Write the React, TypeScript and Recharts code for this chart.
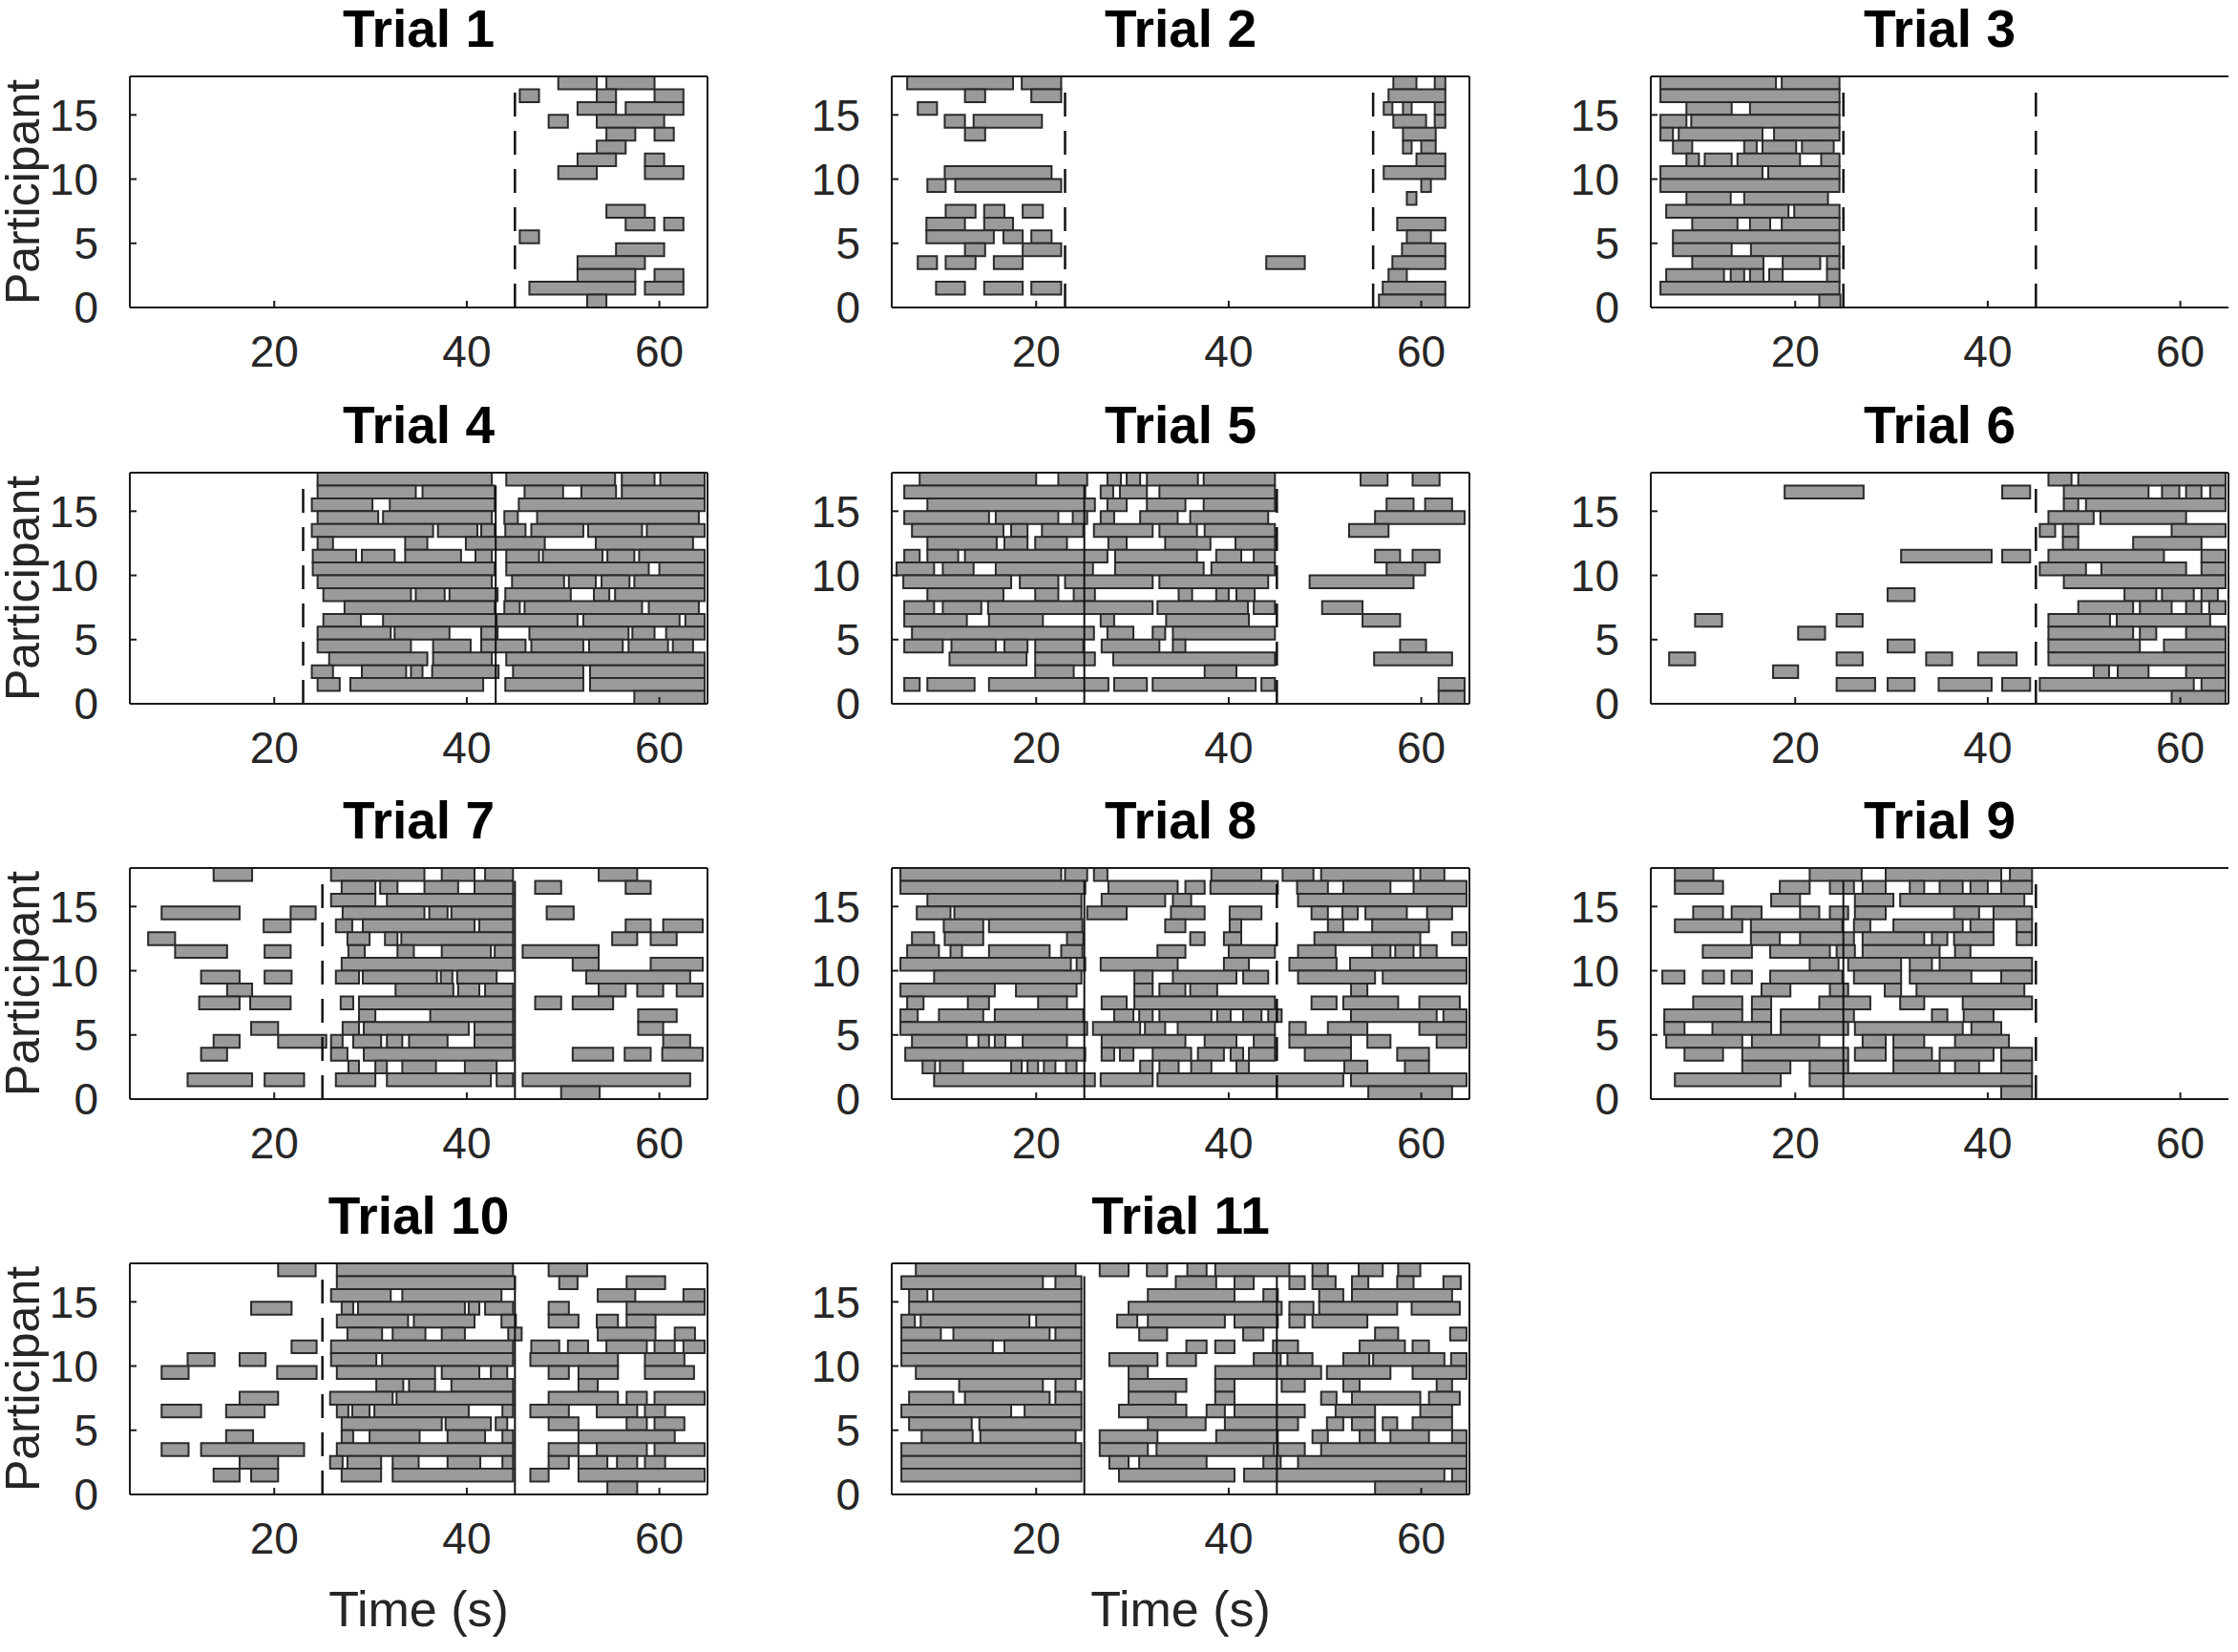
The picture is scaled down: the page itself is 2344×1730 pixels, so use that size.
import React from "react";
import {ComposedChart, XAxis, YAxis, ReferenceArea, ReferenceLine} from "recharts";

// each row: [participant row, start1, end1, start2, end2, ...] in seconds
type RowSpans = number[];
type Mark = { t: number; dashed: boolean };

const xTicks = [20, 40, 60];
const yTicks = [0, 5, 10, 15];
const timeDomain = [5, 65];
const rowDomain = [0, 18];

const trial1Rows: RowSpans[] = [
    [17, 49.5, 53.5, 54.5, 59.5],
    [16, 45.5, 47.5, 53.5, 55.5, 59.5, 62.5],
    [15, 51.5, 55.5, 56.5, 62.5],
    [14, 48.5, 50.5, 53.5, 60.5],
    [13, 54.5, 57.5, 59.5, 61.5],
    [12, 53.5, 56.5],
    [11, 51.5, 55.5, 58.5, 60.5],
    [10, 49.5, 53.5, 58.5, 62.5],
    [7, 54.5, 58.5],
    [6, 56.5, 59.5, 60.5, 62.5],
    [5, 45.5, 47.5],
    [4, 55.5, 60.5],
    [3, 51.5, 58.5],
    [2, 51.5, 57.5, 59.5, 62.5],
    [1, 46.5, 57.5, 58.5, 62.5],
    [0, 52.5, 54.5],
];
const trial1Marks: Mark[] = [{t: 45, dashed: true}];

const trial2Rows: RowSpans[] = [
    [17, 6.6, 17.6, 18.5, 22.6, 57.1, 59.5, 61.4, 62.5],
    [16, 12.6, 14.7, 19.5, 22.6, 56.6, 62.5],
    [15, 7.7, 9.7, 56.1, 57, 58.1, 59, 61.4, 62.5],
    [14, 10.5, 12.6, 13.5, 20.6, 57.1, 60.5, 61.4, 62.5],
    [13, 12.6, 14.7, 58.1, 61.5],
    [12, 58.1, 59, 60, 61.5],
    [11, 59.5, 62.5],
    [10, 10.5, 21.6, 56.1, 62.5],
    [9, 8.7, 10.6, 11.6, 22.6, 60, 61],
    [8, 58.5, 59.5],
    [7, 10.6, 13.7, 14.6, 16.7, 18.6, 20.7],
    [6, 8.6, 12.6, 14.6, 17.6, 57.5, 62.5],
    [5, 8.6, 15.6, 16.6, 18.6, 19.5, 21.6, 58.5, 61],
    [4, 12.6, 14.7, 18.6, 22.6, 58, 62.5],
    [3, 7.7, 9.7, 10.6, 13.7, 15.6, 18.6, 43.9, 47.9, 57, 62.5],
    [2, 56.6, 58.5],
    [1, 9.6, 12.6, 14.6, 18.6, 19.5, 22.6, 56, 62.5],
    [0, 55.6, 62.5],
];
const trial2Marks: Mark[] = [{t: 23, dashed: true}, {t: 55, dashed: true}];

const trial3Rows: RowSpans[] = [
    [17, 6, 18, 18.6, 24.6],
    [16, 6, 24.6],
    [15, 8.7, 13.4, 15.3, 24.6],
    [14, 6, 8.7, 9.2, 24.6],
    [13, 6, 7.3, 7.9, 16.6, 17.8, 24.6],
    [12, 7.3, 9.3, 14.7, 16, 16.6, 20.1, 20.7, 24],
    [11, 8.7, 10, 10.6, 13.4, 14, 20.5, 22.7, 24.6],
    [10, 6, 16.6, 17.2, 24.6],
    [9, 6, 24.6],
    [8, 8.7, 13.3, 14.7, 23.4],
    [7, 6.6, 19.3, 19.9, 24.6],
    [6, 9.3, 14, 15.3, 17.4, 18.6, 24.6],
    [5, 7.3, 24.6],
    [4, 7.3, 13.4, 15.4, 24.6],
    [3, 9.3, 16.7, 18.7, 22.6, 23.3, 24.6],
    [2, 6.6, 12.6, 13.3, 14.7, 15.3, 16.7, 17.3, 18.7, 23.3, 24.6],
    [1, 6, 24.6],
    [0, 22.5, 24.7],
];
const trial3Marks: Mark[] = [{t: 25, dashed: true}, {t: 45, dashed: true}];

const trial4Rows: RowSpans[] = [
    [17, 24.5, 42.6, 44.1, 55.4, 56.1, 59.5, 60.1, 64.7],
    [16, 24.5, 34.7, 35.4, 42.9, 46, 50, 51.9, 55.5, 56.1, 64.7],
    [15, 23.9, 30.2, 32, 42.9, 45.4, 64.7],
    [14, 24.5, 30.8, 31.3, 42.6, 43.9, 45.3, 47.3, 64.1],
    [13, 23.9, 36.5, 37, 41.1, 41.5, 42.9, 44, 46.1, 46.7, 52.1, 52.6, 58.2, 58.7, 64.7],
    [12, 24.5, 26.1, 33.6, 35.9, 39.9, 48.1, 53.4, 63.5],
    [11, 24, 28.5, 29.1, 32.5, 33.6, 39.4, 40.9, 42.6, 44.1, 47.5, 47.9, 54.1, 54.6, 57.4, 57.9, 64.7],
    [10, 24, 42.9, 44.1, 58.9, 60, 64.7],
    [9, 24.5, 42.6, 44.7, 50.1, 50.6, 53.4, 54, 56.9, 57.4, 64.7],
    [8, 25.1, 34.2, 34.7, 37.7, 38.2, 43.2, 44, 50.8, 53.2, 54.8, 55.4, 64.7],
    [7, 27.3, 42.9, 43.9, 45.5, 46, 58.2, 58.9, 64.1],
    [6, 25.1, 29, 31.3, 43.1, 43.1, 51.5, 52.1, 62.1, 62.7, 64.7],
    [5, 24.5, 32.1, 32.5, 38.2, 41.5, 43.2, 46.5, 56.8, 57.2, 59.5, 60.7, 64.7],
    [4, 24.5, 34.2, 36.5, 40.4, 41.5, 46.1, 46.7, 52.1, 52.7, 56.2, 56.8, 60.9, 61.4, 63.5],
    [3, 25.7, 35.9, 36.5, 42.6, 44.1, 64.7],
    [2, 23.9, 26.1, 29.1, 33.7, 34.2, 35.4, 36.4, 43.3, 44.8, 52.1, 52.8, 64.7],
    [1, 24.5, 26.8, 27.9, 41.7, 44, 52.1, 52.8, 64.7],
    [0, 57.4, 64.7],
];
const trial4Marks: Mark[] = [{t: 23, dashed: true}, {t: 43, dashed: false}];

const trial5Rows: RowSpans[] = [
    [17, 7.9, 20, 22.3, 25.3, 27.4, 28.8, 29.4, 30.8, 31.5, 36.8, 37.4, 44.8, 53.7, 56.5, 59.1, 61.9],
    [16, 6.3, 25.1, 26.7, 28, 28.7, 31.5, 32.8, 44.8],
    [15, 8.7, 26.1, 27.4, 29.4, 31.5, 35.5, 37.4, 44.8, 56.4, 59.2, 60.4, 63.2],
    [14, 6.3, 15.1, 15.8, 22.3, 23.8, 25.3, 26.7, 28.1, 30.8, 34.7, 36, 44.1, 55.2, 64.5],
    [13, 7.1, 16.6, 17.4, 19.1, 20.6, 24.9, 26, 32.1, 32.8, 36.7, 37.5, 44.8, 52.5, 56.6],
    [12, 8.7, 15.9, 16.7, 19.1, 19.9, 23.2, 27.5, 29.4, 33.4, 38.1, 40.7, 44.8],
    [11, 6.3, 7.9, 8.7, 11.9, 12.6, 27.4, 28.2, 36.7, 38.7, 41.3, 42.6, 44.8, 55.2, 57.8, 59.1, 61.9],
    [10, 5.5, 9.4, 10.3, 13.5, 15.8, 25.9, 28.2, 37.4, 38.2, 44.8, 56.4, 60.4],
    [9, 6.2, 17.4, 18.3, 22.3, 23, 32.1, 32.8, 44.1, 48.4, 59.2],
    [8, 8.7, 16.6, 19.9, 22.3, 23.9, 26.1, 34.8, 36.2, 38.7, 40, 40.8, 42.7],
    [7, 6.3, 9.4, 10.3, 14.3, 15, 32.1, 32.6, 42, 42.6, 44.8, 49.7, 53.9],
    [6, 6.3, 12.8, 15.1, 20.7, 26.7, 28.1, 33.5, 42.1, 53.9, 57.8],
    [5, 7.1, 26, 27.4, 30.1, 32.1, 33.4, 34.2, 44.8],
    [4, 6.3, 10.3, 11.2, 15.8, 16.7, 19.1, 19.9, 24.9, 26.8, 32.8, 34.2, 35.5, 57.8, 60.5],
    [3, 11, 19, 19.9, 26.1, 28, 44.8, 55.1, 63.2],
    [2, 19.9, 23.9, 37.5, 40.8],
    [1, 6.3, 7.9, 8.7, 13.6, 15.1, 27.5, 28.1, 31.5, 32.1, 42.8, 43.4, 44.8, 61.8, 64.5],
    [0, 61.8, 64.5],
];
const trial5Marks: Mark[] = [{t: 25, dashed: false}, {t: 45, dashed: true}];

const trial6Rows: RowSpans[] = [
    [17, 46.3, 48.7, 49.4, 64.7],
    [16, 18.9, 27.1, 41.5, 44.4, 47.9, 56.7, 58.1, 59.9, 60.6, 62.2, 63.1, 64.7],
    [15, 47.9, 49.4, 50.2, 64.7],
    [14, 46.3, 51, 51.7, 60.6],
    [13, 45.4, 47, 47.8, 49.4, 59.1, 64.7],
    [12, 47.8, 49.4, 55.1, 62.2],
    [11, 31, 40.4, 41.5, 44.4, 46.3, 58.3, 62.2, 64.7],
    [10, 45.4, 50.2, 51.8, 60.6, 62.2, 64.7],
    [9, 47.9, 64.7],
    [8, 29.6, 32.4, 54.2, 57.5, 58.1, 61.4, 62.2, 63.9],
    [7, 49.4, 55.1, 55.8, 59.1, 60.6, 62.2, 63, 64.7],
    [6, 9.6, 12.4, 24.3, 27, 46.3, 52.7, 53.4, 63.1],
    [5, 20.3, 23.1, 46.3, 55.1, 55.8, 57.5, 60.6, 64.7],
    [4, 29.6, 32.4, 46.3, 55.8, 58.3, 64.7],
    [3, 6.9, 9.6, 24.3, 27, 33.6, 36.3, 39, 43, 46.3, 64.7],
    [2, 17.7, 20.3, 51, 52.6, 53.5, 56.7, 60.6, 64.7],
    [1, 24.3, 28.3, 29.6, 32.4, 34.9, 40.4, 41.5, 44.4, 45.4, 61.4, 62.2, 64.7],
    [0, 59.1, 64.7],
];
const trial6Marks: Mark[] = [{t: 45, dashed: true}];

const trial7Rows: RowSpans[] = [
    [17, 13.7, 17.7, 25.9, 35.6, 37.4, 40.8, 41.9, 44.8, 53.7, 57.7],
    [16, 27, 30.5, 31, 32.8, 35.6, 39.1, 40.8, 44.8, 47.1, 49.8, 56.5, 59.1],
    [15, 25.9, 30.5, 31.7, 44.8],
    [14, 8.3, 16.4, 21.7, 24.3, 27.1, 35.6, 36.1, 38, 38.4, 44.8, 48.3, 51.1],
    [13, 18.9, 21.7, 26.4, 28.1, 29.2, 40.8, 41.3, 44.8, 56.5, 59.1, 60.4, 64.5],
    [12, 6.9, 9.7, 27.6, 29.9, 31.5, 32.8, 33.2, 44.8, 55.1, 57.7, 59.1, 61.8],
    [11, 9.7, 15.1, 19, 21.7, 27.7, 29.4, 32.8, 34.5, 37.4, 42.5, 42.9, 44.8, 45.8, 53.7],
    [10, 27, 44.8, 51, 53.7, 59.1, 64.5],
    [9, 12.4, 16.4, 19, 21.8, 26.4, 28.8, 29.2, 36.9, 37.3, 38.5, 39, 43.1, 52.4, 63.2],
    [8, 15.1, 17.7, 32.6, 38.6, 39.1, 41.3, 41.9, 44.8, 53.7, 56.5, 57.7, 60.4, 61.8, 64.5],
    [7, 12.2, 16.4, 17.5, 21.7, 26.9, 28.2, 28.8, 44.8, 47.1, 49.8, 51, 55.2],
    [6, 28.8, 30.5, 36.2, 44.8, 57.8, 61.8],
    [5, 17.6, 20.4, 27.1, 28.8, 29.3, 40.2, 40.8, 44.8, 57.8, 60.4],
    [4, 13.7, 16.4, 20.4, 25.4, 25.9, 27.1, 28.2, 31.1, 31.7, 33.3, 34, 38, 40.8, 44.8, 60.4, 63.2],
    [3, 12.4, 15.1, 25.9, 27.6, 29.3, 44.8, 51, 55.2, 56.4, 59.1, 60.3, 64.5],
    [2, 27.7, 28.8, 30.5, 31.7, 33.3, 36.8, 39.8, 43.1],
    [1, 11, 17.7, 19, 23.1, 26.4, 30.5, 31.7, 42.5, 43.1, 44.8, 45.8, 63.2],
    [0, 49.8, 53.8],
];
const trial7Marks: Mark[] = [{t: 25, dashed: true}, {t: 45, dashed: false}];

const trial8Rows: RowSpans[] = [
    [17, 5.9, 22.6, 23, 25.3, 26, 27.4, 38.2, 43.4, 45.6, 48.8, 49.6, 59.2, 59.9, 62.4],
    [16, 5.9, 25.1, 27.5, 34.7, 35.5, 37.5, 38.1, 45.1, 47.1, 50.3, 51.9, 56.8, 59.2, 64.7],
    [15, 8.7, 24.7, 26.8, 33.4, 34.2, 36.1, 47.2, 64.7],
    [14, 7.6, 11.1, 11.5, 24.7, 25.3, 29.4, 34, 37.5, 40.1, 43.4, 48.6, 50.3, 51.8, 53.4, 54.2, 58.5, 60.6, 63.2],
    [13, 10.4, 14.5, 15.1, 24.8, 33.4, 35.5, 40.1, 41.3, 50.3, 51.9, 54.9, 60.8],
    [12, 7.1, 9.4, 10.5, 14.5, 23.2, 24.9, 36, 37.5, 39.5, 41.3, 48.9, 59.9, 63.2, 64.7],
    [11, 6.6, 9.9, 11.1, 12.3, 15.1, 21.4, 22.6, 24.8, 32.6, 35.5, 40, 44.8, 47.2, 51.1, 54.9, 56.8, 57.3, 59.2, 59.9, 61.6],
    [10, 5.9, 23.6, 24.2, 25.1, 26.7, 34.7, 39.5, 42.1, 46.3, 51.2, 52.6, 64.7],
    [9, 9.4, 24.7, 30.2, 32.1, 34.2, 40.8, 41.5, 44.1, 47.2, 55.2, 56, 64.7],
    [8, 5.9, 15.7, 17.9, 24.2, 30.2, 32.1, 32.8, 35.5, 36, 38.8, 52.7, 54.4],
    [7, 6.6, 8.3, 12.9, 15.1, 20.2, 23.2, 26.8, 29.4, 30.2, 44.8, 48.6, 51.2, 51.9, 57.6, 59.8, 64],
    [6, 5.9, 7.7, 9.9, 14.5, 15.7, 24.9, 28.1, 30.1, 30.7, 32.1, 32.8, 38.2, 38.8, 40.2, 41.5, 43.4, 44.1, 45.5, 52.7, 61.6, 62.3, 64.7],
    [5, 5.9, 25.3, 25.9, 30.8, 31.3, 33.4, 34.7, 44.8, 46.3, 48, 50.3, 54.4, 59.8, 64.7],
    [4, 7.1, 12.8, 14, 15.1, 15.7, 16.8, 18.6, 23.2, 26.8, 35.5, 37.5, 40.8, 42.6, 44.8, 46.3, 52.7, 54.4, 56.8, 61.6, 64.7],
    [3, 6.4, 25.1, 26.8, 28.1, 28.7, 30.1, 32.1, 36.1, 36.8, 39.5, 40.2, 41.5, 42.1, 44.8, 47.9, 52.7, 57.5, 60.8],
    [2, 8.2, 9.5, 10, 12.4, 17.4, 18.5, 19.1, 20.2, 20.8, 22, 23.1, 24.2, 30.8, 32.1, 32.8, 34.8, 36.1, 38.2, 40.8, 42.1, 52, 54.4, 58.3, 60.8],
    [1, 9.4, 26.1, 26.7, 32.1, 32.6, 51.9, 52.7, 64.7],
    [0, 54.5, 63.2],
];
const trial8Marks: Mark[] = [{t: 25, dashed: false}, {t: 45, dashed: true}];

const trial9Rows: RowSpans[] = [
    [17, 7.5, 11.5, 21.5, 26.9, 29.4, 41.4, 42.3, 44.6],
    [16, 7.5, 12.5, 18.4, 21.5, 23.6, 26.1, 27, 29.4, 31.9, 33.4, 35, 37.4, 38.2, 40, 41.4, 44.6],
    [15, 17.5, 20.5, 26.2, 30.2, 30.9, 43.8],
    [14, 9.4, 12.5, 13.4, 16.5, 20.5, 22.5, 23.6, 25.5, 26.2, 29.4, 36.5, 39.1, 40.6, 44.6],
    [13, 7.5, 14.5, 15.4, 24.9, 26.1, 27.8, 30.2, 37.4, 38.2, 40.6, 43, 44.6],
    [12, 15.4, 18.4, 20.5, 26.1, 27, 33.4, 34.2, 35.8, 36.5, 40.6, 43, 44.6],
    [11, 10.4, 15.5, 17.4, 23.6, 24.3, 26.2, 27, 35, 36.6, 38.2],
    [10, 21.5, 24.5, 25.5, 31, 31.9, 34.2, 35, 44.6],
    [9, 6.2, 8.5, 10.4, 12.6, 13.4, 15.5, 17.4, 24.9, 26.1, 31, 31.9, 38.3, 41.4, 44.6],
    [8, 16.5, 19.5, 23.6, 25.5, 29.3, 31, 32.6, 43.8],
    [7, 9.4, 14.5, 15.5, 17.5, 22.5, 27.8, 30.9, 33.4, 37.4, 44.6],
    [6, 6.4, 14.5, 15.5, 17.5, 18.5, 26.1, 34.2, 35.8, 37.5, 40.6],
    [5, 6.4, 8.5, 11.4, 17.5, 18.5, 25.5, 26.2, 37.4, 38.3, 41.4],
    [4, 6.6, 14.5, 15.5, 22.5, 27, 29.4, 30.2, 33.4, 36.6, 42.2],
    [3, 8.5, 12.5, 14.5, 25.5, 26.2, 29.4, 30.2, 34.2, 35, 40.6, 41.4, 44.6],
    [2, 14.5, 19.5, 21.5, 25.5, 30.2, 35, 36.6, 39.1, 41.4, 44.6],
    [1, 7.5, 18.5, 21.5, 44.6],
    [0, 41.4, 44.6],
];
const trial9Marks: Mark[] = [{t: 25, dashed: false}, {t: 45, dashed: true}];

const trial10Rows: RowSpans[] = [
    [17, 20.4, 24.3, 26.5, 44.8, 48.5, 52.5],
    [16, 26.5, 45, 49.6, 51.5, 56.6, 60.6],
    [15, 25.9, 32.1, 33.3, 43.6, 53.6, 57.5, 62.5, 64.7],
    [14, 17.6, 21.8, 27, 28.2, 28.7, 39.8, 40.2, 41.3, 41.9, 44.8, 48.5, 50.6, 56.6, 64.7],
    [13, 26.5, 33.9, 34.5, 40.8, 43.6, 45.1, 48.5, 51.6, 53.5, 55.7, 56.6, 59.6],
    [12, 27.6, 31.2, 32.3, 35.7, 37.4, 39.8, 44.3, 45.7, 53.6, 59.6, 61.6, 63.7],
    [11, 21.8, 24.4, 25.9, 44.8, 46.7, 49.6, 50.5, 52.6, 54.5, 58.7, 59.5, 61.6, 62.5, 64.7],
    [10, 11, 13.8, 16.4, 19.1, 25.9, 30.6, 31.2, 44.8, 46.6, 55.7, 58.5, 62.6],
    [9, 8.3, 11.1, 20.3, 24.4, 26.5, 36.7, 37.4, 41.3, 42.5, 44.2, 48.5, 50.6, 51.6, 55.7, 58.5, 63.6],
    [8, 30.6, 33.4, 34, 36.7, 38.4, 44.8, 51.6, 53.6],
    [7, 16.4, 20.4, 25.8, 32.3, 32.7, 44.8, 48.5, 55.7, 56.6, 58.7, 59.5, 64.7],
    [6, 8.3, 12.4, 15, 19, 26.5, 27.7, 28.1, 29.9, 30.4, 40.2, 43.7, 44.8, 46.6, 50.6, 53.5, 57.7, 58.5, 60.6],
    [5, 27, 37.4, 37.8, 42.5, 43, 44.2, 48.5, 51.6, 56.6, 58.7, 59.5, 62.6],
    [4, 15, 17.8, 27, 28.2, 29.9, 35.1, 38, 41.9, 43.7, 44.8, 51.6, 61.6],
    [3, 8.3, 11.1, 12.4, 23.1, 26.5, 44.8, 48.5, 51.6, 53.5, 58.7, 59.5, 64.7],
    [2, 16.4, 20.4, 25.8, 27.1, 27.6, 31.1, 32.3, 35, 38, 41.4, 43.7, 44.8, 48.5, 50.6, 51.6, 54.6, 55.6, 57.7, 58.5, 60.6],
    [1, 13.7, 16.4, 17.6, 20.4, 27, 31.1, 32.3, 44.8, 46.6, 48.5, 51.6, 64.7],
    [0, 54.6, 57.7],
];
const trial10Marks: Mark[] = [{t: 25, dashed: true}, {t: 45, dashed: false}];

const trial11Rows: RowSpans[] = [
    [17, 7.5, 24.1, 26.6, 29.6, 31.5, 33.6, 35.7, 37.7, 38.6, 46.3, 48.7, 50.3, 53.5, 56, 57.6, 59.9],
    [16, 6, 20.7, 22, 24.7, 34.5, 38.7, 40.6, 42.6, 46.3, 47.9, 48.7, 51.1, 52.8, 54.5, 57.5, 59.2, 62.3, 64.1],
    [15, 6.8, 8.7, 9.3, 24.7, 31.6, 40.6, 43.6, 45.1, 49.4, 51.9, 52.8, 63.2],
    [14, 6.8, 24.7, 29.6, 45.5, 46.3, 48.8, 49.4, 57.5, 59, 64],
    [13, 6, 7.4, 8, 19.3, 20, 24.7, 28.4, 30.5, 31.6, 39.6, 40.6, 45.1, 46.3, 47.9, 48.7, 54.4],
    [12, 6, 10.1, 11.4, 21.4, 22, 24.7, 30.7, 33.6, 41.5, 43.6, 55.2, 57.6, 63, 64.7],
    [11, 6, 15.5, 16.7, 24.7, 35.6, 37.7, 38.6, 40.6, 44.6, 47.2, 53.6, 58.3, 59.1, 60.8],
    [10, 6, 24.7, 27.6, 32.6, 33.6, 36.6, 42.6, 45.4, 46.1, 48.7, 51.9, 54.6, 55, 62.4, 63.1, 64.7],
    [9, 7.5, 24.7, 29.6, 31.6, 38.6, 49.6, 50.2, 56.8, 59.1, 64.7],
    [8, 12, 20.7, 22, 24.1, 29.6, 35.6, 38.6, 40.6, 45.5, 47.9, 51.9, 53.6, 61.6, 63.2],
    [7, 6.8, 11.4, 12.6, 21.4, 22, 24.7, 29.6, 34.5, 38.6, 40.6, 49.6, 51.2, 52.8, 59.9, 60.8, 64],
    [6, 6, 17.4, 18.8, 24.7, 28.6, 35.6, 37.7, 39.6, 40.6, 47.9, 51.1, 55.2, 59.9, 63.2],
    [5, 6.8, 13.3, 14.1, 24.7, 31.6, 37.6, 39.6, 47.2, 50.2, 51.9, 52.8, 55.2, 56, 57.5, 59.1, 63.2],
    [4, 8.1, 13.4, 14.2, 24.1, 26.6, 32.6, 38.7, 45.1, 48.7, 50.3, 53.6, 55.2, 56.8, 60.8, 63.2, 64.7],
    [3, 6, 24.7, 26.6, 31.6, 32.5, 44.7, 45.1, 47.9, 49.6, 64.7],
    [2, 6, 24.7, 27.6, 29.6, 30.7, 37.7, 43.6, 45.4, 47.2, 64.7],
    [1, 6, 24.7, 28.6, 40.6, 41.6, 62.4, 63.2, 64.7],
    [0, 55.2, 64.7],
];
const trial11Marks: Mark[] = [{t: 25, dashed: false}, {t: 45, dashed: false}];

const trials = [
    {name: "Trial 1", rows: trial1Rows, marks: trial1Marks},
    {name: "Trial 2", rows: trial2Rows, marks: trial2Marks},
    {name: "Trial 3", rows: trial3Rows, marks: trial3Marks},
    {name: "Trial 4", rows: trial4Rows, marks: trial4Marks},
    {name: "Trial 5", rows: trial5Rows, marks: trial5Marks},
    {name: "Trial 6", rows: trial6Rows, marks: trial6Marks},
    {name: "Trial 7", rows: trial7Rows, marks: trial7Marks},
    {name: "Trial 8", rows: trial8Rows, marks: trial8Marks},
    {name: "Trial 9", rows: trial9Rows, marks: trial9Marks},
    {name: "Trial 10", rows: trial10Rows, marks: trial10Marks},
    {name: "Trial 11", rows: trial11Rows, marks: trial11Marks},
];

// the right frame edge is cut off in the original for these two panels
const openRight = ["Trial 3", "Trial 9"];

const FONT = "'Liberation Sans', Arial, Helvetica, sans-serif";
const PLOT_W = 605;
const PLOT_H = 242;
const AXIS_W = 120;
const AXIS_H = 80;
const PAD_T = 10;
const PAD_R = 12;
const colLeft = [136, 934, 1729];
const rowTop = [80, 495, 909, 1323];

const toBars = (rows: RowSpans[]) => {
    const out: { row: number; start: number; end: number }[] = [];
    rows.forEach(r => {
        for (let i = 1; i + 1 < r.length; i += 2) {
            out.push({row: r[0], start: r[i], end: r[i + 1]});
        }
    });
    return out;
};

const axisLine = {stroke: "#1a1a1a", strokeWidth: 2};
const tickStyle = {fontSize: 46, fill: "#262626", fontFamily: FONT};

const Panel = ({trial, left, top}: { trial: typeof trials[number]; left: number; top: number }) => {
    const bars = toBars(trial.rows);
    const rightEdge = openRight.includes(trial.name) ? false : axisLine;
    return (
        <div style={{position: "absolute", left: left - AXIS_W, top: top - PAD_T}}>
            <ComposedChart
                width={AXIS_W + PLOT_W + PAD_R}
                height={PAD_T + PLOT_H + AXIS_H}
                margin={{top: PAD_T - 1, right: PAD_R - 1, left: 0, bottom: 0}}
                data={[]}
            >
                <XAxis xAxisId="b" dataKey="t" type="number" domain={timeDomain} ticks={xTicks} allowDataOverflow
                       height={AXIS_H} tickSize={-7} tickMargin={36} interval={0}
                       tick={tickStyle} axisLine={axisLine} tickLine={axisLine}/>
                <XAxis xAxisId="t" dataKey="t" orientation="top" type="number" domain={timeDomain} ticks={xTicks}
                       allowDataOverflow height={1} tickSize={-7} tick={false} interval={0}
                       axisLine={axisLine} tickLine={axisLine}/>
                <YAxis yAxisId="l" dataKey="p" type="number" domain={rowDomain} ticks={yTicks} allowDataOverflow
                       width={AXIS_W} tickSize={-7} tickMargin={40} interval={0}
                       tick={tickStyle} axisLine={axisLine} tickLine={axisLine}/>
                <YAxis yAxisId="r" dataKey="p" orientation="right" type="number" domain={rowDomain} ticks={yTicks}
                       allowDataOverflow width={1} tickSize={-7} tick={false} interval={0}
                       axisLine={rightEdge} tickLine={axisLine}/>
                {bars.map((b, i) => (
                    <ReferenceArea key={`bar-${i}`} xAxisId="b" yAxisId="l"
                                   x1={b.start} x2={b.end} y1={b.row} y2={b.row + 1}
                                   fill="#9a9a9a" fillOpacity={1} stroke="#2a2a2a" strokeWidth={2}/>
                ))}
                {trial.marks.map((m, i) => (
                    <ReferenceLine key={`mark-${i}`} xAxisId="b" yAxisId="l"
                                   segment={[{x: m.t, y: 0}, {x: m.t, y: 17}]}
                                   stroke="#111" strokeWidth={m.dashed ? 2.5 : 2}
                                   strokeDasharray={m.dashed ? "25 15" : undefined}/>
                ))}
            </ComposedChart>
        </div>
    );
};

export default function App() {
    return (
        <div style={{position: "absolute", left: 0, top: 0, width: 2344, height: 1730, background: "#fff", fontFamily: FONT}}>
            {trials.map((trial, i) => {
                const left = colLeft[i % 3];
                const top = rowTop[Math.floor(i / 3)];
                return (
                    <React.Fragment key={trial.name}>
                        <div style={{
                            position: "absolute", left, top: top - 77, width: PLOT_W, textAlign: "center",
                            fontSize: 55, lineHeight: "55px", fontWeight: "bold", color: "#000"
                        }}>{trial.name}</div>
                        <Panel trial={trial} left={left} top={top}/>
                        {i % 3 === 0 && (
                            <div style={{
                                position: "absolute", left: 24, top: top + PLOT_H / 2,
                                transform: "translate(-50%, -50%) rotate(-90deg)", whiteSpace: "nowrap",
                                fontSize: 50, lineHeight: "56px", color: "#262626"
                            }}>Participant</div>
                        )}
                        {i >= 9 && (
                            <div style={{
                                position: "absolute", left: left + PLOT_W / 2, top: 1685,
                                transform: "translate(-50%, -50%)", whiteSpace: "nowrap",
                                fontSize: 52, lineHeight: "60px", color: "#262626"
                            }}>Time (s)</div>
                        )}
                    </React.Fragment>
                );
            })}
        </div>
    );
}
